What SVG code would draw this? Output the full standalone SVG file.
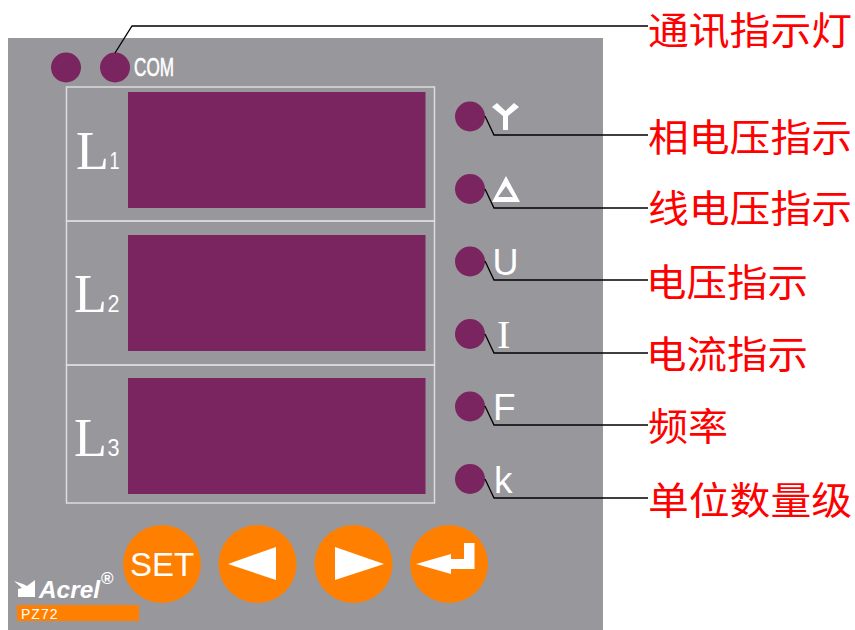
<svg xmlns="http://www.w3.org/2000/svg" width="855" height="630" viewBox="0 0 855 630">
<style>
.led{fill:#7a2560}
.btn{fill:#ff8000}
.fr{fill:none;stroke:#dcdcdc;stroke-width:1.5}
.w{fill:#fff}
.ws{fill:#fff;font-family:"Liberation Sans",sans-serif}
.lt{fill:#fff;font-family:"Liberation Serif",serif;font-size:54px}
.sub{fill:#fff;font-family:"Liberation Sans",sans-serif;font-size:23px}
.cn{fill:#f00;font-family:"Noto Sans CJK SC",sans-serif;font-size:38px}
.ln{fill:none;stroke:#000;stroke-width:1.3}
</style>
<rect width="855" height="630" fill="#fff"/>
<rect x="8" y="38" width="595" height="592" fill="#98979c"/>
<g id="com-leds">
<circle class="led" cx="66" cy="67.500" r="15"/>
<circle class="led" cx="115" cy="67.500" r="15"/>
<text class="ws" x="134" y="76" font-size="25" stroke="#fff" stroke-width="0.6" textLength="40" lengthAdjust="spacingAndGlyphs">COM</text>
</g>
<g id="display-l1">
<rect class="fr" x="66.500" y="87" width="368" height="134"/>
<rect class="led" x="128" y="92" width="297.500" height="116"/>
<text class="lt" x="76" y="169">L</text><text class="sub" x="109.500" y="169" textLength="10" lengthAdjust="spacingAndGlyphs">1</text>
</g>
<g id="display-l2">
<rect class="fr" x="66.500" y="221" width="368" height="144"/>
<rect class="led" x="128" y="235" width="297.500" height="116"/>
<text class="lt" x="74" y="312">L</text><text class="sub" x="107.500" y="312" textLength="12" lengthAdjust="spacingAndGlyphs">2</text>
</g>
<g id="display-l3">
<rect class="fr" x="66.500" y="365" width="368" height="138"/>
<rect class="led" x="128" y="378" width="297.500" height="116"/>
<text class="lt" x="74" y="456">L</text><text class="sub" x="107.500" y="456" textLength="12" lengthAdjust="spacingAndGlyphs">3</text>
</g>
<g id="led-y"><circle class="led" cx="470" cy="116.500" r="15"/>
<path class="w" d="M492 107L497 103L505.500 111L514 103L519 107L508 116V130H503V116Z"/></g>
<g id="led-delta"><circle class="led" cx="470" cy="189" r="15"/>
<path class="w" fill-rule="evenodd" d="M506 176L520 202H492ZM506 186L498 197H513Z"/></g>
<g id="led-u"><circle class="led" cx="470" cy="261.500" r="15"/>
<text class="ws" x="492.500" y="275" font-size="36">U</text></g>
<g id="led-i"><circle class="led" cx="470" cy="334" r="15"/>
<text x="497" y="348" fill="#fff" font-family="Liberation Serif,serif" font-size="40">I</text></g>
<g id="led-f"><circle class="led" cx="470" cy="406.500" r="15"/>
<text class="ws" x="493" y="420" font-size="37">F</text></g>
<g id="led-k"><circle class="led" cx="470" cy="479" r="15"/>
<text class="ws" x="494" y="493" font-size="37">k</text></g>
<g id="btn-set"><circle class="btn" cx="162" cy="564" r="39"/>
<text class="ws" x="162" y="576" font-size="33" text-anchor="middle">SET</text></g>
<g id="btn-left"><circle class="btn" cx="257.500" cy="564" r="39"/>
<path class="w" d="M228 564l48-17v33z"/></g>
<g id="btn-right"><circle class="btn" cx="353.500" cy="564" r="39"/>
<path class="w" d="M384 564l-49-17v33z"/></g>
<g id="btn-enter"><circle class="btn" cx="449" cy="564" r="39"/>
<path class="w" d="M416 564L451 554V559H464V543H474.500V569H451V574Z"/></g>
<g id="logo">
<path class="w" d="M14 581L23 584L27 586L35 580V597H18V589L22 588Z"/>
<text x="39" y="598" fill="#fff" font-family="Liberation Sans,sans-serif" font-size="24" font-style="italic" font-weight="bold" textLength="61" lengthAdjust="spacingAndGlyphs">Acrel</text>
<text x="101" y="584" fill="#fff" font-family="Liberation Sans,sans-serif" font-size="17" font-weight="bold">®</text>
<rect x="17" y="605" width="122" height="16" fill="#ff8000"/>
<text class="ws" x="21" y="619" font-size="14" letter-spacing="1">PZ72</text>
</g>
<g id="connectors">
<path class="ln" d="M115 53L132 26H648"/>
<path class="ln" d="M485 116L494 135H648"/>
<path class="ln" d="M485 189L494 208H648"/>
<path class="ln" d="M485 261L494 280H648"/>
<path class="ln" d="M485 334L494 353H648"/>
<path class="ln" d="M485 406L494 425H648"/>
<path class="ln" d="M485 479L494 498H648"/>
</g>
<g id="labels">
<text class="cn" x="648" y="44" textLength="204" lengthAdjust="spacingAndGlyphs">通讯指示灯</text>
<text class="cn" x="648" y="151" textLength="204" lengthAdjust="spacingAndGlyphs">相电压指示</text>
<text class="cn" x="648" y="222" textLength="204" lengthAdjust="spacingAndGlyphs">线电压指示</text>
<text class="cn" x="646" y="296" textLength="162" lengthAdjust="spacingAndGlyphs">电压指示</text>
<text class="cn" x="646" y="368" textLength="162" lengthAdjust="spacingAndGlyphs">电流指示</text>
<text class="cn" x="648" y="440" textLength="80" lengthAdjust="spacingAndGlyphs">频率</text>
<text class="cn" x="648" y="514" textLength="204" lengthAdjust="spacingAndGlyphs">单位数量级</text>
</g>
</svg>
